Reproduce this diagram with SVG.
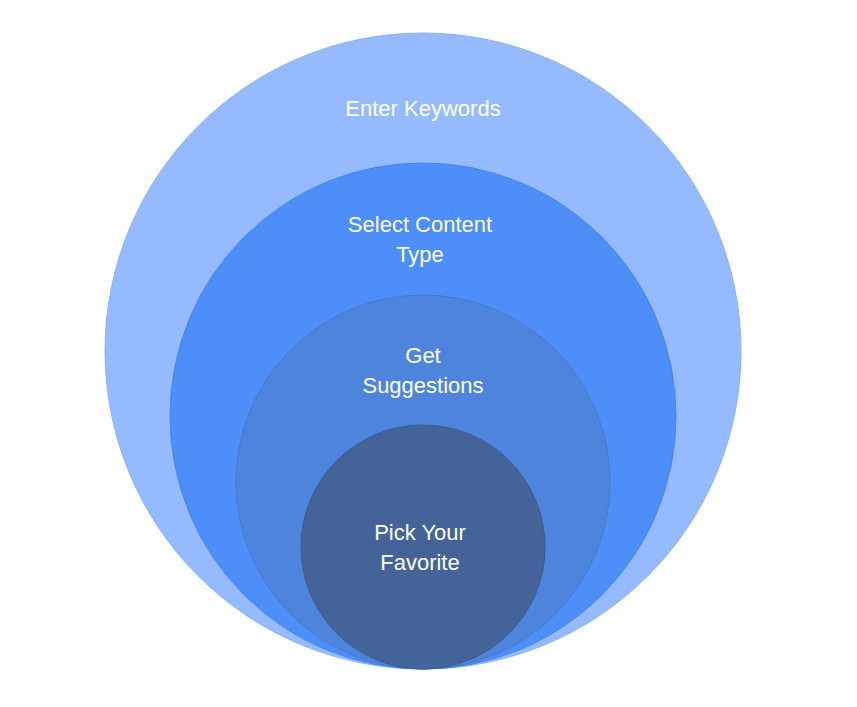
<svg xmlns="http://www.w3.org/2000/svg" width="857" height="707" viewBox="0 0 857 707">
<style>
text{font-family:"Liberation Sans",Arial,sans-serif;font-size:22px;fill:#fff;text-anchor:middle}
circle{stroke-width:1}
</style>
<rect width="857" height="707" fill="#fff"/>
<g id="n1"><circle cx="423" cy="351" r="318" fill="#95BBFE" stroke="#8AB2F8"/><text x="423" y="116">Enter Keywords</text></g>
<g id="n2"><circle cx="423" cy="416" r="253" fill="#4E8EF8" stroke="#4684EE"/><text x="420" y="232">Select Content</text><text x="420" y="262">Type</text></g>
<g id="n3"><circle cx="423" cy="482" r="187" fill="#4F84DC" stroke="#477AD0"/><text x="423" y="363">Get</text><text x="423" y="393">Suggestions</text></g>
<g id="n4"><circle cx="423" cy="547" r="122" fill="#436399" stroke="#3C5A8E"/><text x="420" y="540">Pick Your</text><text x="420" y="570">Favorite</text></g>
<g id="connectors"/>
</svg>
